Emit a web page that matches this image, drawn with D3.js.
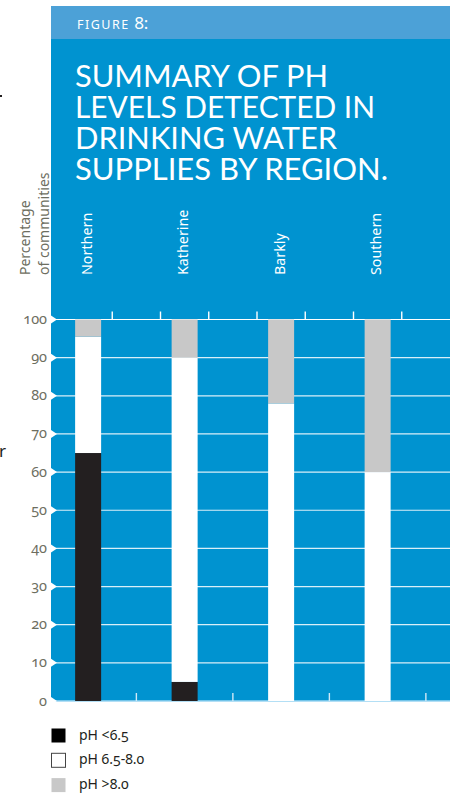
<!DOCTYPE html>
<html>
<head>
<meta charset="utf-8">
<script src="https://cdn.jsdelivr.net/npm/d3@7"></script>
<style>
  html, body { margin: 0; padding: 0; background: #fff; }
  svg { display: block; }
  .osn { font-variant-numeric: oldstyle-nums; font-feature-settings: "onum" 1; }
</style>
</head>
<body>
<div id="chart"></div>
<script>
// ---------- DATA ----------
const regions = ["Northern", "Katherine", "Barkly", "Southern"];
const phBelow65 = [65, 5, 0, 0];        // pH <6.5 (%)
const ph65to80  = [30.5, 85, 78, 60];   // pH 6.5-8.0 (%)
const phAbove80 = [4.5, 10, 22, 40];    // pH >8.0 (%)
const seriesNames = ["pH <6.5", "pH 6.5-8.0", "pH >8.0"];
const yTicks = [0, 10, 20, 30, 40, 50, 60, 70, 80, 90, 100];
const titleLines = ["SUMMARY OF PH", "LEVELS DETECTED IN", "DRINKING WATER", "SUPPLIES BY REGION."];
const yTitleLines = ["Percentage", "of communities"];

// ---------- LAYOUT ----------
const W = 455, H = 794;
const panelL = 51, panelR = 450, headerTop = 6, headerBot = 39;
const colors = ["#231f20", "#ffffff", "#c8c8c8"];
const blue = "#0093d0", headerBlue = "#4ca1d7", axisGrey = "#6d6e5f";

const svg = d3.select("#chart").append("svg").attr("width", W).attr("height", H);

const y = d3.scaleLinear().domain([0, 100]).range([701, 319.5]);
const slot = d3.scaleLinear().domain([0, 8]).range([64, 450]);
const barW = 26;
const cx = i => slot(2 * i + 0.5);

// stray text from neighbouring page
svg.append("rect").attr("x", 0).attr("y", 95).attr("width", 2).attr("height", 2).attr("fill", "#231f20");
svg.append("text").attr("x", -1).attr("y", 457).attr("font-family", "Noto Sans").attr("font-size", 17)
  .attr("fill", "#231f20").text("r");

// panel
svg.append("rect").attr("x", panelL).attr("y", headerTop).attr("width", panelR - panelL)
  .attr("height", headerBot - headerTop).attr("fill", headerBlue);
svg.append("rect").attr("x", panelL).attr("y", headerBot).attr("width", panelR - panelL)
  .attr("height", y(0) - headerBot).attr("fill", blue);

// header text
const fig = svg.append("text").attr("x", 77).attr("y", 29).attr("fill", "#fff")
  .attr("font-family", "Noto Sans");
fig.append("tspan").attr("font-size", 12.5).attr("letter-spacing", 1.5).text("FIGURE ");
fig.append("tspan").attr("font-size", 17).attr("class", "osn").text("8:");

// title
const titleW = [253, 300, 262, 313];
svg.append("g").selectAll("text").data(titleLines).join("text")
  .attr("x", 75).attr("y", (d, i) => 87 + i * 31)
  .attr("fill", "#fff").attr("font-family", "Lato").attr("font-size", 30.5)
  .attr("textLength", (d, i) => titleW[i]).attr("lengthAdjust", "spacingAndGlyphs")
  .text(d => d);

// y axis title (rotated)
svg.append("g").selectAll("text").data(yTitleLines).join("text")
  .attr("transform", (d, i) => `translate(${i === 0 ? 29.5 : 48.5},275) rotate(-90)`)
  .attr("fill", axisGrey).attr("font-family", "Noto Sans").attr("font-size", 14)
  .text(d => d);

// category labels (rotated)
svg.append("g").selectAll("text").data(regions).join("text")
  .attr("transform", (d, i) => `translate(${cx(i) + 3.5},275) rotate(-90)`)
  .attr("fill", "#fff").attr("font-family", "Noto Sans").attr("font-size", 14.3)
  .text(d => d);

// gridlines
svg.append("g").selectAll("line").data(yTicks.filter(t => t > 0)).join("line")
  .attr("x1", panelL).attr("x2", panelR).attr("y1", d => y(d)).attr("y2", d => y(d))
  .attr("stroke", "#fff").attr("stroke-opacity", d => d === 100 ? 1 : 0.85).attr("stroke-width", 1.2);
svg.append("line").attr("x1", panelL).attr("x2", panelR).attr("y1", y(0)).attr("y2", y(0))
  .attr("stroke", "#9ad4f2").attr("stroke-width", 1.5);

// top ticks
svg.append("g").selectAll("line").data(d3.range(1, 8)).join("line")
  .attr("x1", d => slot(d)).attr("x2", d => slot(d)).attr("y1", y(100)).attr("y2", y(100) - 8)
  .attr("stroke", "#fff").attr("stroke-width", 1.4);
// bottom ticks
svg.append("g").selectAll("line").data(d3.range(1, 8).map(d => d + 0.5)).join("line")
  .attr("x1", d => slot(d)).attr("x2", d => slot(d)).attr("y1", y(0)).attr("y2", y(0) - 8)
  .attr("stroke", "#cfe9f7").attr("stroke-width", 1.4);

// bars
const stackData = regions.map((r, i) => ({ region: r, s0: phBelow65[i], s1: ph65to80[i], s2: phAbove80[i] }));
const stacked = d3.stack().keys(["s0", "s1", "s2"])(stackData);
svg.append("g").selectAll("g").data(stacked).join("g")
  .attr("fill", (d, i) => colors[i])
  .selectAll("rect").data(d => d).join("rect")
  .attr("x", (d, i) => cx(i) - barW / 2).attr("width", barW)
  .attr("y", d => y(d[1])).attr("height", d => y(d[0]) - y(d[1]));

// left notches
svg.append("g").selectAll("path").data(yTicks).join("path")
  .attr("d", d => `M${panelL},${y(d) - 4}L${panelL + 6},${y(d)}L${panelL},${y(d) + 4}Z`)
  .attr("fill", "#fff");

// y tick labels
svg.append("g").selectAll("text").data(yTicks).join("text")
  .attr("class", "osn")
  .attr("x", 47).attr("y", d => y(d) + 4.5).attr("text-anchor", "end")
  .attr("fill", axisGrey).attr("font-family", "Noto Sans").attr("font-size", 14.5)
  .text(d => d);

// legend
const lg = svg.append("g").selectAll("g").data(seriesNames).join("g")
  .attr("transform", (d, i) => `translate(51,${728 + i * 24.8})`);
lg.append("rect").attr("x", 0.5).attr("y", 0.5).attr("width", 14).attr("height", 14)
  .attr("fill", (d, i) => i === 0 ? "#000" : colors[i])
  .attr("stroke", (d, i) => i === 1 ? "#444" : "none").attr("stroke-width", 1);
lg.append("text").attr("class", "osn").attr("x", 28).attr("y", 11.5)
  .attr("fill", "#231f20").attr("font-family", "Noto Sans").attr("font-size", 14)
  .text(d => d);
</script>
</body>
</html>
